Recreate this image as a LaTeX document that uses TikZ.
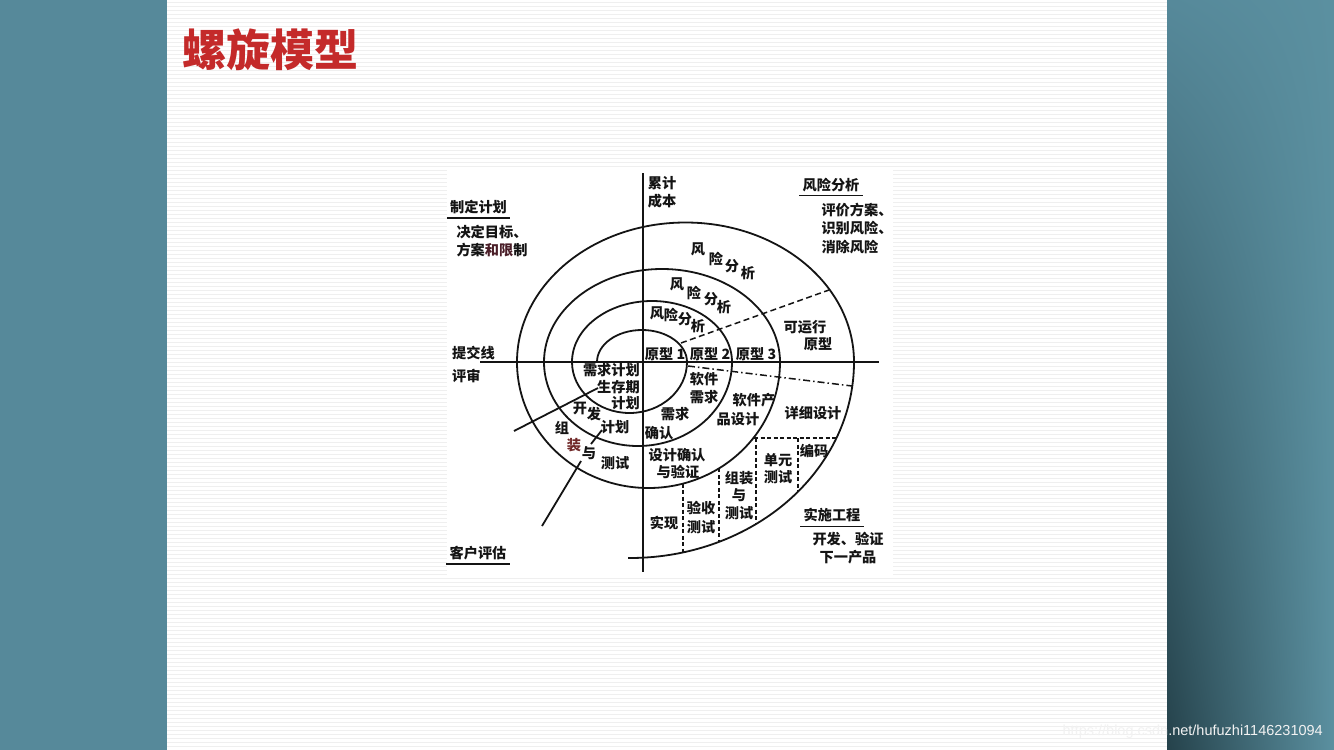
\documentclass[tikz,border=0pt]{standalone}
\usepackage{fontspec}
\setmainfont{Noto Sans CJK SC}
\newfontfamily\latinfont{Liberation Sans}
\usetikzlibrary{shadings}
\definecolor{bgteal}{HTML}{56899A}
\definecolor{bgtealR}{HTML}{5B90A0}
\definecolor{bgdark}{HTML}{25424B}
\definecolor{titlered}{HTML}{C42A2A}
\definecolor{stripe}{HTML}{EFEFEF}
\definecolor{ink}{HTML}{141414}
\begin{document}
\begin{tikzpicture}[x=1pt,y=1pt,
  txt/.style={font=\fontsize{14.2}{18}\selectfont\bfseries, inner sep=0pt, text=ink},
  ln/.style={line width=1.8pt, draw=ink},
  ul/.style={line width=1.8pt, draw=ink},
  dsh/.style={line width=1.5pt, draw=ink, dash pattern=on 4pt off 2.5pt},
  dshlong/.style={line width=1.5pt, draw=ink, dash pattern=on 6pt off 3.5pt},
  dshdot/.style={line width=1.5pt, draw=ink, dash pattern=on 7pt off 3pt on 1.5pt off 3pt},
  ]
\useasboundingbox (0,0) rectangle (1334,-750);
% background
\fill[bgteal] (0,0) rectangle (167,-750);
\shade[upper left=bgteal, upper right=bgtealR, lower left=bgdark, lower right=bgtealR] (1167,0) rectangle (1334,-750);
\fill[white] (167,0) rectangle (1167,-750);
\foreach \k in {0,...,187} \draw[stripe, line width=1pt] (167,{-4*\k-2}) -- (1167,{-4*\k-2});
\fill[white] (447,-168) rectangle (893,-575);

% title
\node[font=\fontsize{44}{50}\selectfont\bfseries, text=titlered, inner sep=0pt] (title) at (270,-50) {螺旋模型};

% axes
\coordinate (vtop) at (643,-173);
\coordinate (vbot) at (643,-572);
\coordinate (hl) at (480,-362);
\coordinate (hr) at (879,-362);
\draw[ln] (vtop) -- (vbot);
\draw[ln] (hl) -- (hr);

% spiral
\coordinate (s0) at (597,-362);
\draw[ln] (s0)
  arc[start angle=180, end angle=0, x radius=45, y radius=32]
  arc[start angle=0, end angle=-180, x radius=57.5, y radius=51]
  arc[start angle=180, end angle=0, x radius=80, y radius=61]
  arc[start angle=0, end angle=-180, x radius=94, y radius=84]
  arc[start angle=180, end angle=0, x radius=118, y radius=93]
  arc[start angle=0, end angle=-180, x radius=131.5, y radius=126]
  arc[start angle=180, end angle=0, x radius=168.5, y radius=139.5]
  arc[start angle=0, end angle=-90.5, x radius=224, y radius=196];

% dashed lines
\coordinate (du1) at (681,-343);
\coordinate (du2) at (829,-290);
\draw[dshlong] (du1) -- (du2);
\coordinate (dd1) at (688,-366);
\coordinate (dd2) at (852,-386);
\draw[dshdot] (dd1) -- (dd2);
\coordinate (h1) at (754,-438);
\coordinate (h2) at (836,-438);
\draw[dsh] (h1) -- (h2);
\coordinate (v1a) at (798,-438);
\coordinate (v1b) at (798,-491.6);
\draw[dsh] (v1a) -- (v1b);
\coordinate (v2a) at (756,-438);
\coordinate (v2b) at (756,-524);
\draw[dsh] (v2a) -- (v2b);
\coordinate (v3a) at (719,-468.4);
\coordinate (v3b) at (719,-541.9);
\draw[dsh] (v3a) -- (v3b);
\coordinate (v4a) at (683,-483.6);
\coordinate (v4b) at (683,-552.4);
\draw[dsh] (v4a) -- (v4b);

% customer review lines
\coordinate (l1a) at (514,-431);
\coordinate (l1b) at (598,-388);
\draw[ln] (l1a) -- (l1b);
\coordinate (l2a) at (542,-526);
\coordinate (l2b) at (581,-461);
\draw[ln] (l2a) -- (l2b);
\coordinate (l3a) at (591,-444);
\coordinate (l3b) at (602,-430);
\draw[ln] (l3a) -- (l3b);

% corner labels
\node[txt, align=left] (cost) at (662,-192) {累计\\成本};
\node[txt] (planT) at (478.5,-207) {制定计划};
\draw[ul] ([xshift=-3pt,yshift=-4pt]planT.south west) -- ([xshift=3pt,yshift=-4pt]planT.south east);
\node[txt, align=left] (planB) at (492,-241) {决定目标、\\方案{\color[HTML]{4A1E28}和限}制};
\node[txt] (riskT) at (831,-185) {风险分析};
\draw[ul] ([xshift=-3pt,yshift=-3.5pt]riskT.south west) -- ([xshift=3pt,yshift=-3.5pt]riskT.south east);
\node[txt, align=left, font=\fontsize{14.2}{18.5}\selectfont\bfseries] (riskB) at (857,-228.5) {评价方案、\\识别风险、\\消除风险};
\node[txt, anchor=west] (submit) at (452,-353) {提交线};
\node[txt, anchor=west] (review) at (452,-376) {评审};
\node[txt] (cust) at (478,-553) {客户评估};
\draw[ul] ([xshift=-3pt,yshift=-4pt]cust.south west) -- ([xshift=3pt,yshift=-4pt]cust.south east);
\node[txt] (impT) at (832,-515) {实施工程};
\draw[ul] ([xshift=-3pt,yshift=-4.5pt]impT.south west) -- ([xshift=3pt,yshift=-4.5pt]impT.south east);
\node[txt, align=center] (impB) at (848,-548) {开发、验证\\下一产品};

% inner labels
\node[txt] (ra1) at (698,-249) {风};
\node[txt] (ra2) at (716,-259) {险};
\node[txt] (ra3) at (732,-266) {分};
\node[txt] (ra4) at (748,-273) {析};
\node[txt] (rb1) at (677,-284) {风};
\node[txt] (rb2) at (694,-293) {险};
\node[txt] (rb3) at (711,-299) {分};
\node[txt] (rb4) at (724,-307) {析};
\node[txt] (rc1) at (657,-313) {风};
\node[txt] (rc2) at (671,-315) {险};
\node[txt] (rc3) at (685,-319) {分};
\node[txt] (rc4) at (698,-326) {析};

\node[txt] (p1) at (665,-354) {原型 1};
\node[txt] (p2) at (710,-354) {原型 2};
\node[txt] (p3) at (756,-354) {原型 3};
\node[txt] (run1) at (805,-327) {可运行};
\node[txt] (run2) at (818,-344) {原型};

\node[txt, anchor=east] (req1) at (640,-370) {需求计划};
\node[txt, anchor=east] (req2) at (640,-387) {生存期};
\node[txt, anchor=east] (req3) at (640,-403) {计划};
\node[txt] (dev1) at (580,-409) {开};
\node[txt] (dev2) at (594,-414) {发};
\node[txt] (dev3) at (615,-427) {计划};
\node[txt] (as1) at (562,-428) {组};
\node[txt, text={rgb,255:red,112;green,40;blue,40}] (as2) at (574,-445) {装};
\node[txt] (as3) at (589,-453) {与};
\node[txt] (as4) at (615,-463) {测试};

\node[txt, align=center] (sw) at (704,-388.5) {软件\\需求};
\node[txt] (rq1) at (675,-414) {需求};
\node[txt] (rq2) at (659,-433) {确认};
\node[txt] (pd1) at (754,-400) {软件产};
\node[txt] (pd2) at (738,-419) {品设计};
\node[txt] (dd) at (813,-413) {详细设计};
\node[txt] (code) at (814,-451) {编码};
\node[txt, align=center, font=\fontsize{14.2}{17}\selectfont\bfseries] (ut) at (778,-468.5) {单元\\测试};
\node[txt, align=center, font=\fontsize{14.2}{17.5}\selectfont\bfseries] (it) at (739,-495.5) {组装\\与\\测试};
\node[txt] (dv1) at (677,-455) {设计确认};
\node[txt] (dv2) at (678,-472) {与验证};
\node[txt, align=center, font=\fontsize{14.2}{18.5}\selectfont\bfseries] (at) at (701,-517.5) {验收\\测试};
\node[txt] (impl) at (664,-523) {实现};

% watermark
\node[font=\latinfont\fontsize{14.5}{16}\selectfont, text=white!90!gray, anchor=east, inner sep=0pt] (wm) at (1323,-732) {https://blog.csdn.net/hufuzhi1146231094};
\end{tikzpicture}
\end{document}
